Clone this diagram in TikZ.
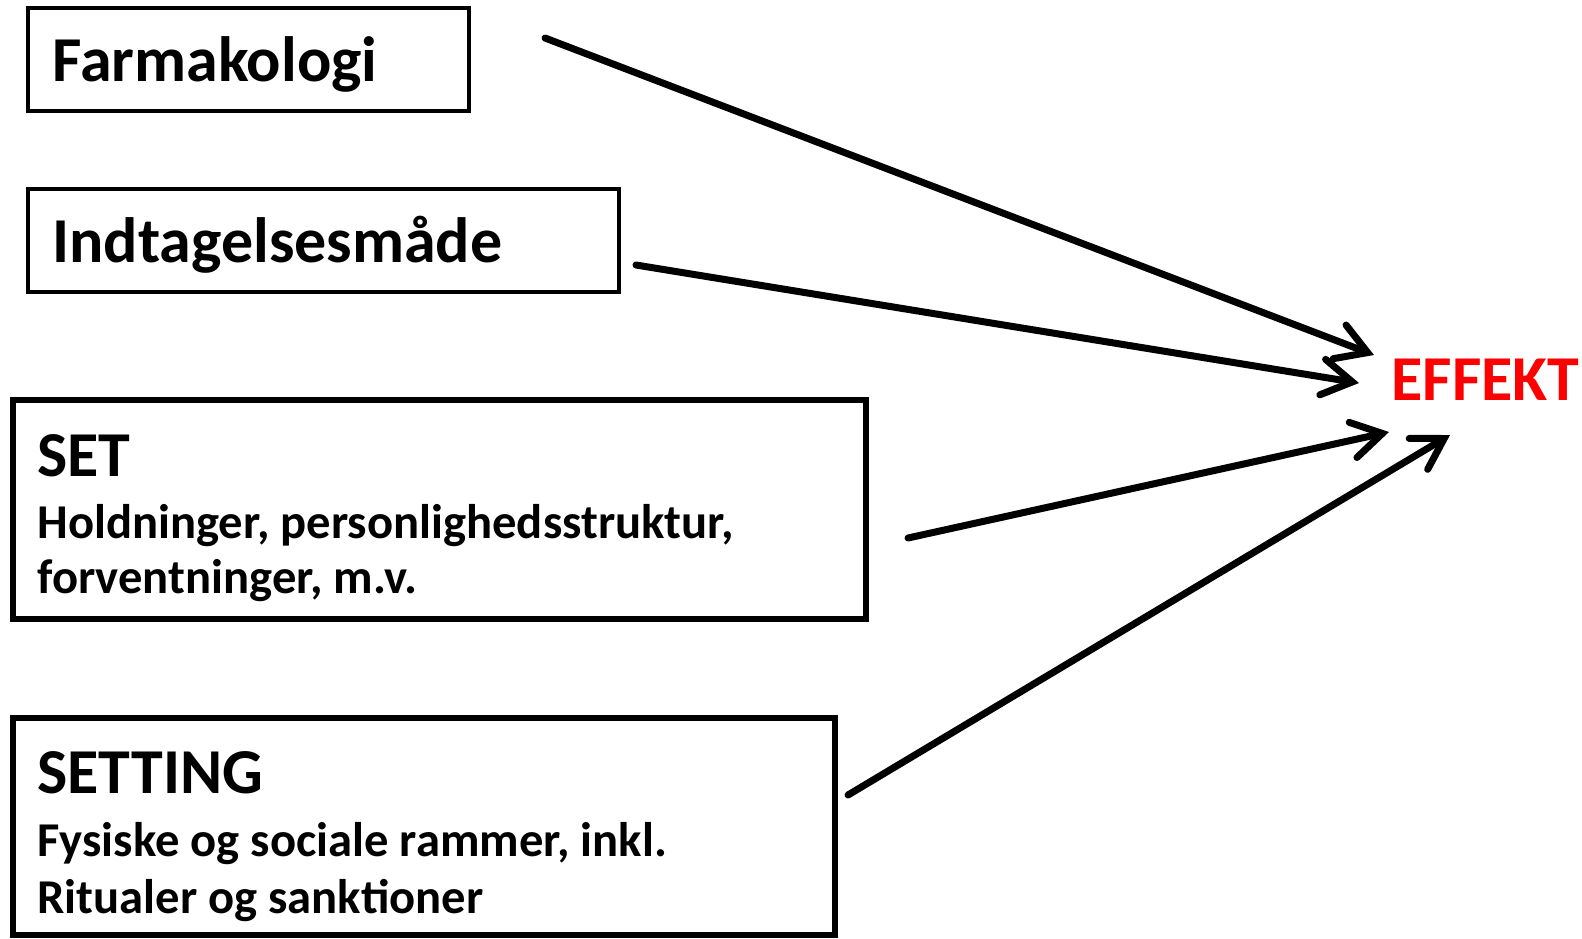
\documentclass[tikz,border=0pt]{standalone}
\usepackage{fontspec}
\setmainfont{Carlito}
\usetikzlibrary{arrows.meta}
\begin{document}
\begin{tikzpicture}[x=0.5pt,y=-0.5pt,
  frame/.style={draw=black,line width=2pt,fill=none},
  thickframe/.style={draw=black,line width=3pt,fill=none},
  title/.style={anchor=base west,inner sep=0pt,font=\bfseries\fontsize{32}{38}\selectfont},
  sub/.style={anchor=base west,inner sep=0pt,font=\bfseries\fontsize{24.3}{28}\selectfont},
  link/.style={line width=3.5pt,line cap=round,line join=miter,
    -{Straight Barb[length=15pt,width=18pt,line cap=round,line join=miter]}}]
\useasboundingbox (0,0) rectangle (1582,938);

% boxes
\draw[frame] (28,8) rectangle (469,111);
\draw[frame] (28,189) rectangle (619,292);
\draw[thickframe] (13,400) rectangle (866,619);
\draw[thickframe] (13,718) rectangle (835,935);

% texts
\node[title] (farm) at (52,81) {Farmakologi};
\node[title] (indt) at (52,262) {Indtagelsesmåde};
\node[title] (set) at (37,476) {SET};
\node[sub] (setA) at (37,538) {Holdninger, personlighedsstruktur,};
\node[sub] (setB) at (37,593) {forventninger, m.v.};
\node[title] (setting) at (37,793) {SETTING};
\node[sub] (settA) at (37,856) {Fysiske og sociale rammer, inkl.};
\node[sub] (settB) at (37,913) {Ritualer og sanktioner};
\node[title,text=red] (effekt) at (1391,400) {EFFEKT};

% arrow ends
\coordinate (s1) at (545,38);
\coordinate (e1) at (1374,355);
\coordinate (s2) at (636,265);
\coordinate (e2) at (1359,383);
\coordinate (s3) at (908,538);
\coordinate (e3) at (1389,432);
\coordinate (s4) at (848,795);
\coordinate (e4) at (1450,435);

\draw[link] (s1) -- (e1);
\draw[link] (s2) -- (e2);
\draw[link] (s3) -- (e3);
\draw[link] (s4) -- (e4);
\end{tikzpicture}
\end{document}
